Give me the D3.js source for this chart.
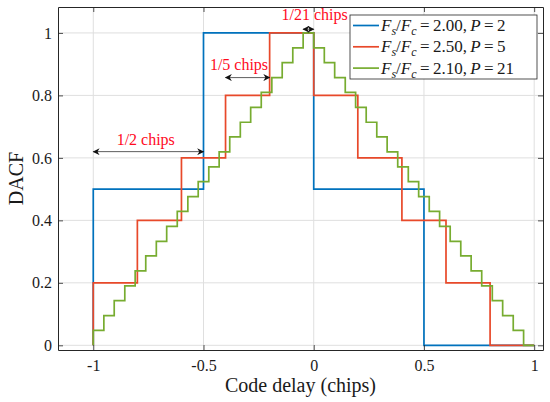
<!DOCTYPE html>
<html>
<head>
<meta charset="utf-8">
<script src="https://cdn.jsdelivr.net/npm/d3@7"></script>
<style>
  html, body { margin: 0; padding: 0; background: #fff; }
  text { font-family: "Liberation Serif", "DejaVu Serif", serif; }
</style>
</head>
<body>
<div id="chart"></div>
<script>
// Series (stairs: value holds until the next x)
const blueX = [-1, -1, -0.5, 0, 0.5, 1];
const blueY = [0, 0.5, 1, 0.5, 0, 0];

const redX = [-1, -1, -0.8, -0.6, -0.4, -0.2, 0, 0.2, 0.4, 0.6, 0.8, 1];
const redY = [0, 0.2, 0.4, 0.6, 0.8, 1, 0.8, 0.6, 0.4, 0.2, 0, 0];

const greenX = [-1, -1, -0.952, -0.905, -0.857, -0.810, -0.762, -0.714, -0.667, -0.619, -0.571,
  -0.524, -0.476, -0.429, -0.381, -0.333, -0.286, -0.238, -0.190, -0.143, -0.095, -0.048,
  0, 0.048, 0.095, 0.143, 0.190, 0.238, 0.286, 0.333, 0.381, 0.429, 0.476, 0.524, 0.571,
  0.619, 0.667, 0.714, 0.762, 0.810, 0.857, 0.905, 0.952, 1];
const greenY = [0, 0.048, 0.095, 0.143, 0.190, 0.238, 0.286, 0.333, 0.381, 0.429, 0.476,
  0.524, 0.571, 0.619, 0.667, 0.714, 0.762, 0.810, 0.857, 0.905, 0.952, 1.000,
  0.952, 0.905, 0.857, 0.810, 0.762, 0.714, 0.667, 0.619, 0.571, 0.524, 0.476, 0.429,
  0.381, 0.333, 0.286, 0.238, 0.190, 0.143, 0.095, 0.048, 0, 0];

const seriesNames = [
  { ratio: '2.00', p: '2' },
  { ratio: '2.50', p: '5' },
  { ratio: '2.10', p: '21' }
];
const seriesColors = ['#0072bd', '#e8492a', '#77ac30'];

const xTicks = [-1, -0.5, 0, 0.5, 1];
const yTicks = [0, 0.2, 0.4, 0.6, 0.8, 1];

// annotations: double arrow from x0 to x1 at y, label centred at tx, ty (data units)
const notes = [
  { label: '1/2 chips', x0: -1, x1: -0.5, y: 0.62, tx: -0.762, ty: 0.64 },
  { label: '1/5 chips', x0: -0.4, x1: -0.2, y: 0.857, tx: -0.339, ty: 0.88 },
  { label: '1/21 chips', x0: -0.048, x1: 0, y: 1.012, tx: 0.004, ty: 1.04 }
];

const width = 550, height = 402;
const margin = { top: 7, right: 7, bottom: 52, left: 58 };

const x = d3.scaleLinear().domain([-1.16, 1.04]).range([margin.left, width - margin.right]);
const y = d3.scaleLinear().domain([-0.015, 1.083]).range([height - margin.bottom, margin.top]);

const svg = d3.select('#chart').append('svg')
  .attr('width', width)
  .attr('height', height);

const axisColor = '#262626';

// grid
svg.append('g').selectAll('line').data(xTicks).enter().append('line')
  .attr('x1', d => x(d)).attr('x2', d => x(d))
  .attr('y1', y.range()[0]).attr('y2', y.range()[1])
  .attr('stroke', '#dfdfdf').attr('stroke-width', 1);
svg.append('g').selectAll('line').data(yTicks).enter().append('line')
  .attr('y1', d => y(d)).attr('y2', d => y(d))
  .attr('x1', x.range()[0]).attr('x2', x.range()[1])
  .attr('stroke', '#dfdfdf').attr('stroke-width', 1);

// series
const series = [
  { xs: blueX, ys: blueY },
  { xs: redX, ys: redY },
  { xs: greenX, ys: greenY }
];
const line = d3.line()
  .x(d => x(d[0]))
  .y(d => y(d[1]))
  .curve(d3.curveStepAfter);

svg.append('g').selectAll('path').data(series).enter().append('path')
  .attr('d', s => line(s.xs.map((v, i) => [v, s.ys[i]])))
  .attr('fill', 'none')
  .attr('stroke', (s, i) => seriesColors[i])
  .attr('stroke-width', 1.7);

// axes (box with inward ticks on all sides)
const fmt = d => String(d);
const tickLen = 5;
const bottomAxis = d3.axisBottom(x).tickValues(xTicks).tickFormat(fmt).tickSizeInner(-tickLen).tickSizeOuter(0).tickPadding(10);
const topAxis = d3.axisTop(x).tickValues(xTicks).tickFormat('').tickSizeInner(-tickLen).tickSizeOuter(0);
const leftAxis = d3.axisLeft(y).tickValues(yTicks).tickFormat(fmt).tickSizeInner(-tickLen).tickSizeOuter(0).tickPadding(6);
const rightAxis = d3.axisRight(y).tickValues(yTicks).tickFormat('').tickSizeInner(-tickLen).tickSizeOuter(0);

const gB = svg.append('g').attr('transform', `translate(0,${y.range()[0]})`).call(bottomAxis);
const gT = svg.append('g').attr('transform', `translate(0,${y.range()[1]})`).call(topAxis);
const gL = svg.append('g').attr('transform', `translate(${x.range()[0]},0)`).call(leftAxis);
const gR = svg.append('g').attr('transform', `translate(${x.range()[1]},0)`).call(rightAxis);

[gB, gT, gL, gR].forEach(g => {
  g.select('.domain').attr('stroke', axisColor).attr('stroke-width', 1);
  g.selectAll('.tick line').attr('stroke', axisColor).attr('stroke-width', 0.8);
  g.selectAll('.tick text')
    .attr('fill', '#1a1a1a')
    .style('font-family', '"Liberation Serif", serif')
    .style('font-size', '16px');
});

// axis labels
svg.append('text')
  .attr('x', (x.range()[0] + x.range()[1]) / 2)
  .attr('y', 392)
  .attr('text-anchor', 'middle')
  .attr('fill', '#1a1a1a')
  .style('font-size', '20px')
  .text('Code delay (chips)');

svg.append('text')
  .attr('transform', `translate(23,${(y.range()[0] + y.range()[1]) / 2}) rotate(-90)`)
  .attr('text-anchor', 'middle')
  .attr('fill', '#1a1a1a')
  .style('font-size', '20px')
  .text('DACF');

// annotations
const defs = svg.append('defs');
defs.append('marker')
  .attr('id', 'head')
  .attr('viewBox', '0 0 10 10')
  .attr('refX', 9).attr('refY', 5)
  .attr('markerWidth', 9).attr('markerHeight', 7)
  .attr('markerUnits', 'userSpaceOnUse')
  .attr('orient', 'auto-start-reverse')
  .append('path')
  .attr('d', 'M0,0 L10,5 L0,10 L3,5 Z')
  .attr('fill', '#111');

const ann = svg.append('g');
ann.selectAll('line').data(notes).enter().append('line')
  .attr('x1', d => x(d.x0)).attr('x2', d => x(d.x1))
  .attr('y1', d => y(d.y)).attr('y2', d => y(d.y))
  .attr('stroke', '#333').attr('stroke-width', 0.8)
  .attr('marker-start', 'url(#head)')
  .attr('marker-end', 'url(#head)');
ann.selectAll('text').data(notes).enter().append('text')
  .attr('x', d => x(d.tx))
  .attr('y', d => y(d.ty))
  .attr('text-anchor', 'middle')
  .attr('fill', '#ff0a1e')
  .style('font-size', '16px')
  .text(d => d.label);

// legend
const lg = svg.append('g').attr('transform', 'translate(350,15)');
lg.append('rect')
  .attr('width', 187).attr('height', 64)
  .attr('fill', '#fff')
  .attr('stroke', axisColor).attr('stroke-width', 0.8);

const rows = lg.selectAll('g.row').data(seriesNames).enter().append('g')
  .attr('class', 'row')
  .attr('transform', (d, i) => `translate(0,${10.5 + i * 21.3})`);
rows.append('line')
  .attr('x1', 3).attr('x2', 29)
  .attr('stroke', (d, i) => seriesColors[i])
  .attr('stroke-width', 1.7);
const t = rows.append('text')
  .attr('x', 31)
  .attr('y', 5.5)
  .attr('fill', '#1a1a1a')
  .style('font-size', '17px');
t.each(function (d) {
  const el = d3.select(this);
  el.append('tspan').style('font-style', 'italic').text('F');
  el.append('tspan').style('font-style', 'italic').style('font-size', '12px').attr('dy', 4).text('s');
  el.append('tspan').attr('dy', -4).text('/');
  el.append('tspan').style('font-style', 'italic').text('F');
  el.append('tspan').style('font-style', 'italic').style('font-size', '12px').attr('dy', 4).text('c');
  el.append('tspan').attr('dy', -4).text('\u2009=\u2009' + d.ratio + ',\u2009');
  el.append('tspan').style('font-style', 'italic').text('P');
  el.append('tspan').text('\u2009=\u2009' + d.p);
});
</script>
</body>
</html>
